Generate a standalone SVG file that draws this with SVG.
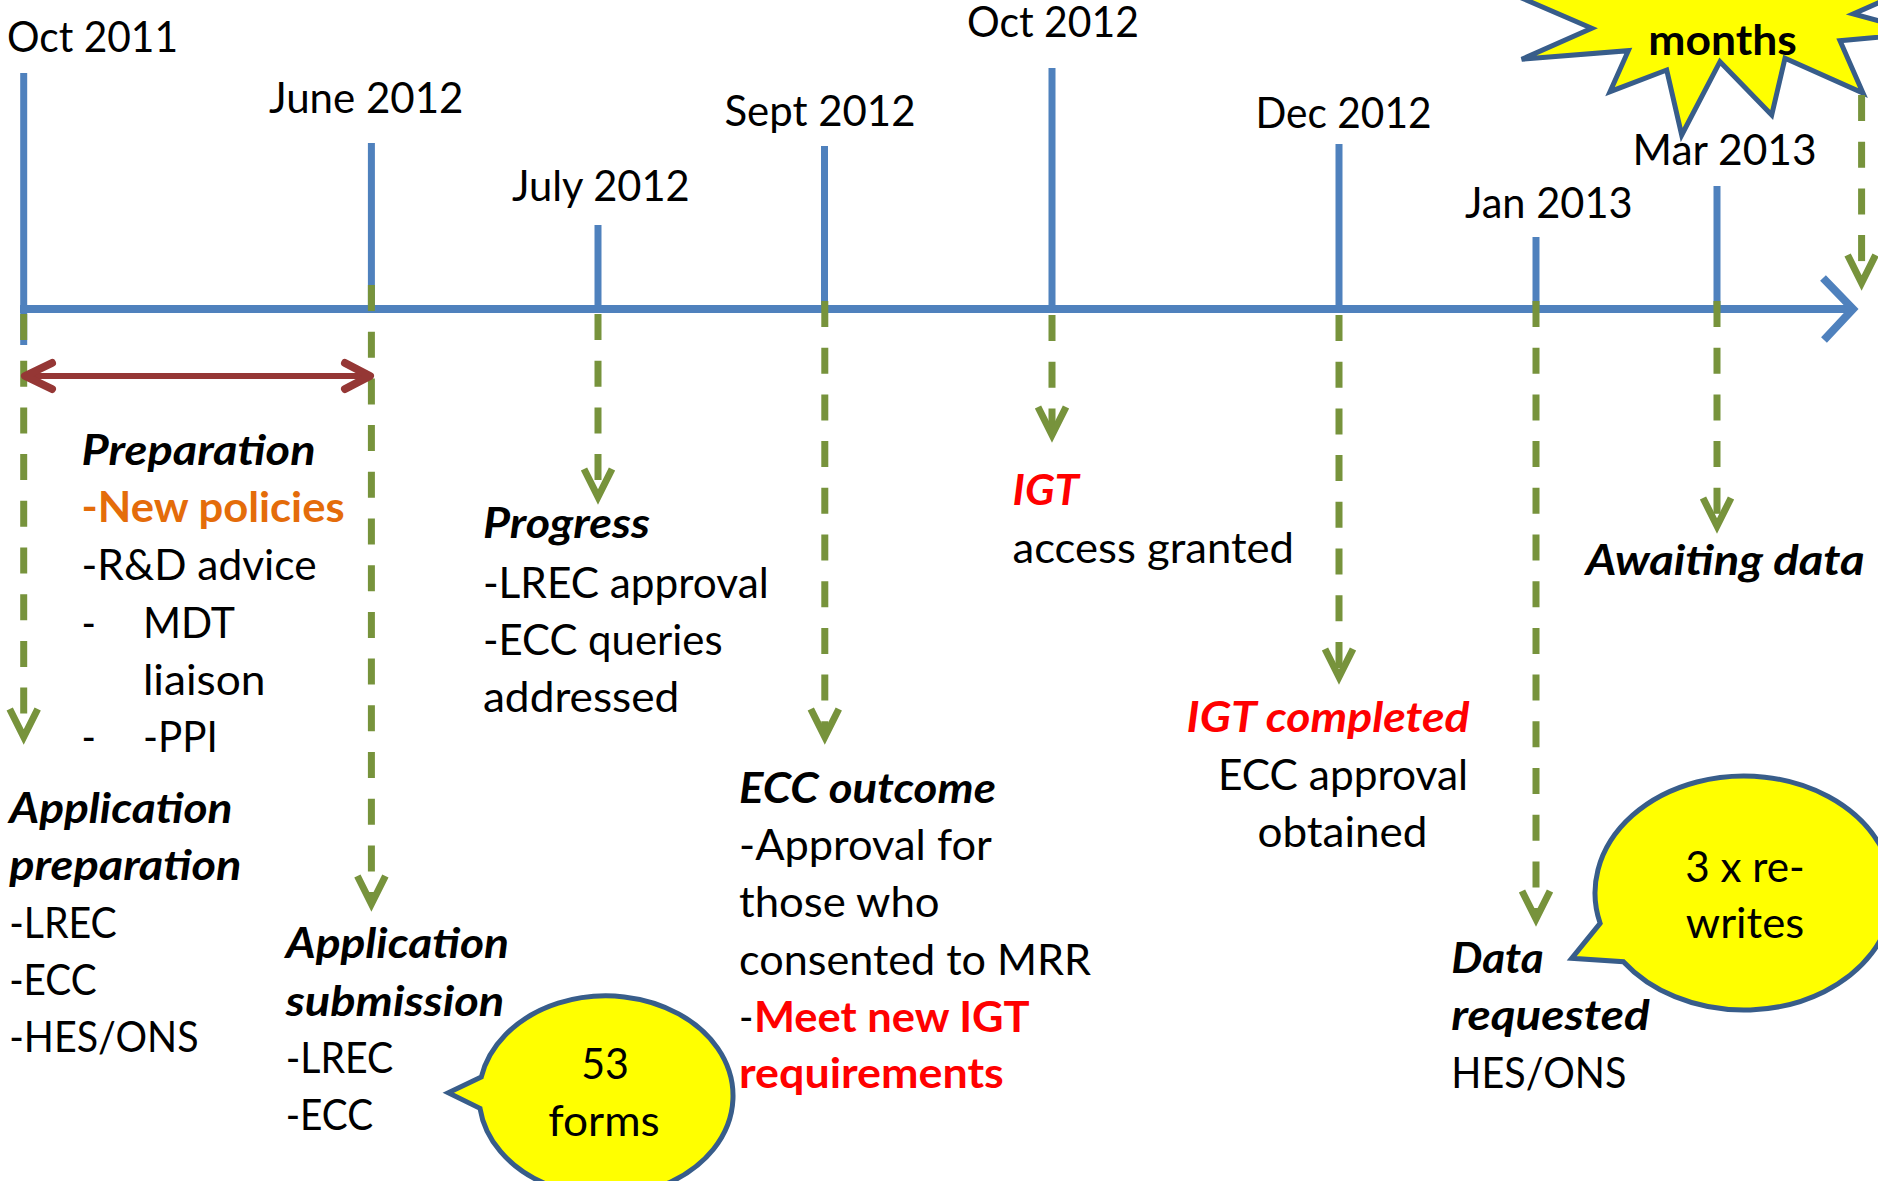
<svg xmlns="http://www.w3.org/2000/svg" width="1878" height="1181" viewBox="0 0 1878 1181">
<style>
text{font-family:Lato,"Liberation Sans",sans-serif;font-size:42.5px;fill:#000}
.b{font-weight:bold}
.bi{font-weight:bold;font-style:italic}
.red{fill:#FF0000}
.org{fill:#E46C0A}
.mid{text-anchor:middle}
.tick{stroke:#4F81BD;stroke-width:7;fill:none}
.axis{stroke:#4F81BD;stroke-width:8;fill:none}
.dash{stroke:#77933C;stroke-width:7;stroke-dasharray:26 20.7;fill:none}
.head{stroke:#77933C;stroke-width:7;fill:none;stroke-linejoin:miter}
.span{stroke:#953735;stroke-width:6;fill:none}
.spanh{stroke:#953735;stroke-width:8;fill:none;stroke-linecap:round;stroke-linejoin:round}
.call{fill:#FFFF00;stroke:#385D8A;stroke-width:5}
</style>
<rect width="1878" height="1181" fill="#FFFFFF"/>

<g id="starburst">
<polygon class="call" points="1480,-20 1591.7,28.3 1521.7,59.3 1628.3,50.7 1610,91.7 1666.7,70 1681.7,135 1720,61.7 1771.7,115 1785,58.3 1863,93 1840,40.7 1924,33 1853.3,14 1930,-20 1900,-80 1500,-80"/>
<text x="1648.3" y="55" class="b" textLength="148.5" lengthAdjust="spacingAndGlyphs">months</text>
</g>

<g id="ticks">
<line class="tick" x1="23.7" y1="73" x2="23.7" y2="345"/>
<line class="tick" x1="371.4" y1="143" x2="371.4" y2="309"/>
<line class="tick" x1="598" y1="225" x2="598" y2="313"/>
<line class="tick" x1="824.5" y1="146" x2="824.5" y2="309"/>
<line class="tick" x1="1052" y1="68" x2="1052" y2="309"/>
<line class="tick" x1="1339" y1="144" x2="1339" y2="309"/>
<line class="tick" x1="1536" y1="237" x2="1536" y2="309"/>
<line class="tick" x1="1717" y1="186" x2="1717" y2="309"/>
</g>

<g id="connectors">
<line class="axis" x1="20" y1="309" x2="1851" y2="309"/>
<polyline class="axis" points="1823,278 1853,309 1824,340"/>
<line class="dash" x1="23.7" y1="314" x2="23.7" y2="732"/>
<polyline class="head" points="9.7,709 23.7,737 37.7,709"/>
<line class="dash" x1="371.4" y1="285" x2="371.4" y2="899"/>
<polyline class="head" points="357.4,876 371.4,904 385.4,876"/>
<line class="dash" x1="598" y1="314" x2="598" y2="492"/>
<polyline class="head" points="584,469 598,497 612,469"/>
<line class="dash" x1="824.8" y1="301" x2="824.8" y2="732"/>
<polyline class="head" points="810.8,709 824.8,737 838.8,709"/>
<line class="dash" x1="1052" y1="315" x2="1052" y2="430"/>
<polyline class="head" points="1038,407 1052,435 1066,407"/>
<line class="dash" x1="1339" y1="315" x2="1339" y2="672"/>
<polyline class="head" points="1325,649 1339,677 1353,649"/>
<line class="dash" x1="1536" y1="301" x2="1536" y2="914"/>
<polyline class="head" points="1522,891 1536,919 1550,891"/>
<line class="dash" x1="1717" y1="301" x2="1717" y2="521"/>
<polyline class="head" points="1703,498 1717,526 1731,498"/>
<line class="dash" x1="1861.6" y1="95" x2="1861.6" y2="278"/>
<polyline class="head" points="1847.6,255 1861.6,283 1875.6,255"/>
<line class="span" x1="28" y1="376" x2="367" y2="376"/>
<polyline class="spanh" points="52,363 25,376 52,389"/>
<polyline class="spanh" points="345,363 370,376 345,389"/>
</g>

<g id="date-labels">
<text x="7" y="52" textLength="171" lengthAdjust="spacingAndGlyphs">Oct 2011</text>
<text x="269" y="112.7" textLength="194.5" lengthAdjust="spacingAndGlyphs">June 2012</text>
<text x="512" y="201" textLength="177.7" lengthAdjust="spacingAndGlyphs">July 2012</text>
<text x="724.5" y="126" textLength="191" lengthAdjust="spacingAndGlyphs">Sept 2012</text>
<text x="967" y="36.7" textLength="172" lengthAdjust="spacingAndGlyphs">Oct 2012</text>
<text x="1255.5" y="127.7" textLength="176" lengthAdjust="spacingAndGlyphs">Dec 2012</text>
<text x="1465" y="218.3" textLength="167.6" lengthAdjust="spacingAndGlyphs">Jan 2013</text>
<text x="1632.6" y="165" textLength="184" lengthAdjust="spacingAndGlyphs">Mar 2013</text>
</g>

<g id="preparation">
<text x="81.6" y="465" class="bi" textLength="234" lengthAdjust="spacingAndGlyphs">Preparation</text>
<text x="81.6" y="521.7" class="b org" textLength="263" lengthAdjust="spacingAndGlyphs">-New policies</text>
<text x="81.6" y="580" textLength="235" lengthAdjust="spacingAndGlyphs">-R&amp;D advice</text>
<text x="81.6" y="638" textLength="14.4" lengthAdjust="spacingAndGlyphs">-</text>
<text x="142.9" y="638" textLength="92" lengthAdjust="spacingAndGlyphs">MDT</text>
<text x="142.9" y="695" textLength="122.6" lengthAdjust="spacingAndGlyphs">liaison</text>
<text x="81.6" y="751.7" textLength="14.4" lengthAdjust="spacingAndGlyphs">-</text>
<text x="142.9" y="751.7" textLength="74.8" lengthAdjust="spacingAndGlyphs">-PPI</text>
</g>

<g id="application-preparation">
<text x="9.2" y="822.5" class="bi" textLength="223.3" lengthAdjust="spacingAndGlyphs">Application</text>
<text x="9.2" y="880" class="bi" textLength="232.3" lengthAdjust="spacingAndGlyphs">preparation</text>
<text x="9.2" y="938.3" textLength="107.6" lengthAdjust="spacingAndGlyphs">-LREC</text>
<text x="9.2" y="995" textLength="87.4" lengthAdjust="spacingAndGlyphs">-ECC</text>
<text x="9.2" y="1051.7" textLength="189.4" lengthAdjust="spacingAndGlyphs">-HES/ONS</text>
</g>

<g id="application-submission">
<text x="285.7" y="958.3" class="bi" textLength="223.3" lengthAdjust="spacingAndGlyphs">Application</text>
<text x="285.7" y="1016" class="bi" textLength="218.6" lengthAdjust="spacingAndGlyphs">submission</text>
<text x="285.7" y="1072.7" textLength="107.6" lengthAdjust="spacingAndGlyphs">-LREC</text>
<text x="285.7" y="1130" textLength="87.4" lengthAdjust="spacingAndGlyphs">-ECC</text>
</g>

<g id="callout-53-forms">
<path class="call" d="M481.3,1077 L448.3,1092.7 L480,1108.3 A127 100 0 1 0 481.3,1077 Z"/>
<text x="605" y="1079" class="mid" textLength="47.7" lengthAdjust="spacingAndGlyphs">53</text>
<text x="604" y="1136" class="mid" textLength="111.4" lengthAdjust="spacingAndGlyphs">forms</text>
</g>

<g id="progress">
<text x="482.9" y="538.3" class="bi" textLength="167" lengthAdjust="spacingAndGlyphs">Progress</text>
<text x="482.9" y="598.3" textLength="285.8" lengthAdjust="spacingAndGlyphs">-LREC approval</text>
<text x="482.9" y="655" textLength="239.7" lengthAdjust="spacingAndGlyphs">-ECC queries</text>
<text x="482.9" y="711.7" textLength="196.5" lengthAdjust="spacingAndGlyphs">addressed</text>
</g>

<g id="ecc-outcome">
<text x="739" y="802.5" class="bi" textLength="256.9" lengthAdjust="spacingAndGlyphs">ECC outcome</text>
<text x="739" y="860" textLength="252.8" lengthAdjust="spacingAndGlyphs">-Approval for</text>
<text x="739" y="916.7" textLength="200.6" lengthAdjust="spacingAndGlyphs">those who</text>
<text x="739" y="975" textLength="352.1" lengthAdjust="spacingAndGlyphs">consented to MRR</text>
<text x="739" y="1031.7" textLength="14.4" lengthAdjust="spacingAndGlyphs">-</text>
<text x="754" y="1031.7" class="b red" textLength="275.6" lengthAdjust="spacingAndGlyphs">Meet new IGT</text>
<text x="739" y="1088.3" class="b red" textLength="264.8" lengthAdjust="spacingAndGlyphs">requirements</text>
</g>

<g id="igt-access">
<text x="1012.5" y="505" class="bi red" textLength="66.5" lengthAdjust="spacingAndGlyphs">IGT</text>
<text x="1012.5" y="562.7" textLength="281.5" lengthAdjust="spacingAndGlyphs">access granted</text>
</g>

<g id="igt-completed">
<text x="1186.6" y="731.7" class="bi red" textLength="283" lengthAdjust="spacingAndGlyphs">IGT completed</text>
<text x="1218" y="790" textLength="250" lengthAdjust="spacingAndGlyphs">ECC approval</text>
<text x="1257.5" y="846.7" textLength="170" lengthAdjust="spacingAndGlyphs">obtained</text>
</g>

<g id="awaiting-data">
<text x="1585.7" y="575" class="bi" textLength="279" lengthAdjust="spacingAndGlyphs">Awaiting data</text>
</g>

<g id="data-requested">
<text x="1451.3" y="973.3" class="bi" textLength="92.4" lengthAdjust="spacingAndGlyphs">Data</text>
<text x="1451.3" y="1030" class="bi" textLength="198.4" lengthAdjust="spacingAndGlyphs">requested</text>
<text x="1451.3" y="1088.3" textLength="175" lengthAdjust="spacingAndGlyphs">HES/ONS</text>
</g>

<g id="callout-rewrites">
<path class="call" d="M1600.1,923.3 L1571.7,958.3 L1623.4,961.7 A149 117 0 1 0 1600.1,923.3 Z"/>
<text x="1745" y="881.7" class="mid" textLength="119.6" lengthAdjust="spacingAndGlyphs">3 x re-</text>
<text x="1745" y="938.3" class="mid" textLength="118.3" lengthAdjust="spacingAndGlyphs">writes</text>
</g>
</svg>
